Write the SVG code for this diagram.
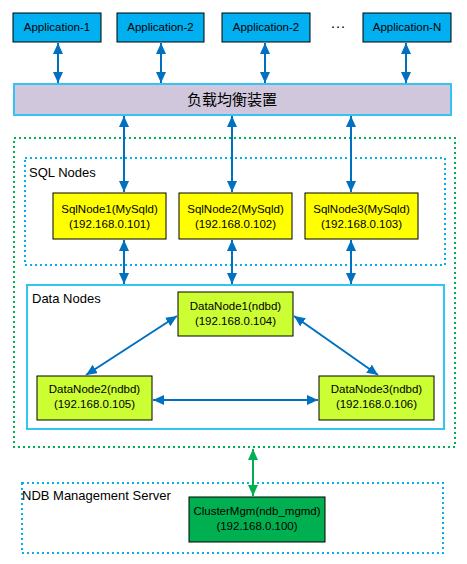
<svg xmlns="http://www.w3.org/2000/svg" width="467" height="564" viewBox="0 0 467 564">
<style>
text{font-family:"Liberation Sans","Noto Sans CJK JP",sans-serif;font-size:11.5px;fill:#000;text-anchor:middle}
.lbl{font-size:13px;text-anchor:start}
.big{font-size:15px}
.app{fill:#00B0F0;stroke:#000;stroke-width:1}
.sql{fill:#FFFF00;stroke:#000;stroke-width:1}
.dn{fill:#CCFF33;stroke:#000;stroke-width:1}
.mg{fill:#00B050;stroke:#000;stroke-width:1}
.ba{stroke:#0070C0;stroke-width:2;fill:none;marker-start:url(#ab);marker-end:url(#ab)}
.ga{stroke:#00B050;stroke-width:2;fill:none;marker-start:url(#ag);marker-end:url(#ag)}
.gdot{fill:none;stroke:#00B050;stroke-width:2;stroke-dasharray:2 3}
.bdot{fill:none;stroke:#00B0F0;stroke-width:2;stroke-dasharray:2 3}
</style>
<defs>
<marker id="ab" viewBox="0 0 10 10" refX="10" refY="5" markerWidth="5.5" markerHeight="5" orient="auto-start-reverse" markerUnits="strokeWidth" preserveAspectRatio="none"><path d="M0,0L10,5L0,10z" fill="#0070C0"/></marker>
<marker id="ag" viewBox="0 0 10 10" refX="10" refY="5" markerWidth="5.5" markerHeight="5" orient="auto-start-reverse" markerUnits="strokeWidth" preserveAspectRatio="none"><path d="M0,0L10,5L0,10z" fill="#00B050"/></marker>
</defs>
<rect width="467" height="564" fill="#fff"/>
<g id="groups">
<rect id="cluster" class="gdot" x="14" y="138" width="441" height="309"/>
<rect id="sqlgroup" class="bdot" x="25" y="158" width="420" height="107"/>
<text class="lbl" x="29" y="177">SQL Nodes</text>
<rect id="datagroup" x="27" y="285" width="417" height="144" fill="#fff" stroke="#33C4F4" stroke-width="2"/>
<text class="lbl" x="32" y="303">Data Nodes</text>
<rect id="mgmgroup" class="bdot" x="22" y="483" width="421" height="70"/>
<text class="lbl" x="22" y="500">NDB Management Server</text>
</g>
<g id="app1"><rect class="app" x="13" y="13" width="88" height="29"/><text x="57" y="31">Application-1</text></g>
<g id="app2"><rect class="app" x="117" y="13" width="87" height="29"/><text x="160.5" y="31">Application-2</text></g>
<g id="app3"><rect class="app" x="222" y="13" width="88" height="29"/><text x="266" y="31">Application-2</text></g>
<g id="dots"><text class="big" x="338" y="31">···</text></g>
<g id="appN"><rect class="app" x="363" y="13" width="88" height="29"/><text x="407" y="31">Application-N</text></g>
<g id="lb"><rect x="14" y="84" width="437" height="31" fill="#D0C7DD" stroke="#33C4F4" stroke-width="2"/><text class="big" x="232" y="105">负载均衡装置</text></g>
<g id="sql1"><rect class="sql" x="53" y="193" width="113" height="46"/><text x="109.5" y="213">SqlNode1(MySqld)</text><text x="109.5" y="228">(192.168.0.101)</text></g>
<g id="sql2"><rect class="sql" x="179" y="193" width="113" height="46"/><text x="235.5" y="213">SqlNode2(MySqld)</text><text x="235.5" y="228">(192.168.0.102)</text></g>
<g id="sql3"><rect class="sql" x="305" y="193" width="113" height="46"/><text x="361.5" y="213">SqlNode3(MySqld)</text><text x="361.5" y="228">(192.168.0.103)</text></g>
<g id="dn1"><rect class="dn" x="178" y="292" width="115" height="44"/><text x="235.5" y="310">DataNode1(ndbd)</text><text x="235.5" y="325">(192.168.0.104)</text></g>
<g id="dn2"><rect class="dn" x="37" y="376" width="115" height="44"/><text x="94.5" y="393">DataNode2(ndbd)</text><text x="94.5" y="408">(192.168.0.105)</text></g>
<g id="dn3"><rect class="dn" x="319" y="376" width="115" height="44"/><text x="376.5" y="393">DataNode3(ndbd)</text><text x="376.5" y="408">(192.168.0.106)</text></g>
<g id="mgm"><rect class="mg" x="189" y="497" width="136" height="45"/><text x="257" y="515">ClusterMgm(ndb_mgmd)</text><text x="257" y="530">(192.168.0.100)</text></g>
<g id="connectors">
<line class="ba" x1="58" y1="43" x2="58" y2="83"/>
<line class="ba" x1="161" y1="43" x2="161" y2="83"/>
<line class="ba" x1="265" y1="43" x2="265" y2="83"/>
<line class="ba" x1="406" y1="43" x2="406" y2="83"/>
<line class="ba" x1="124" y1="116" x2="124" y2="192"/>
<line class="ba" x1="232" y1="116" x2="232" y2="192"/>
<line class="ba" x1="351" y1="116" x2="351" y2="192"/>
<line class="ba" x1="124" y1="240" x2="124" y2="284"/>
<line class="ba" x1="232" y1="240" x2="232" y2="284"/>
<line class="ba" x1="351" y1="240" x2="351" y2="284"/>
<line class="ba" x1="177" y1="316" x2="86" y2="375"/>
<line class="ba" x1="294" y1="316" x2="378" y2="375"/>
<line class="ba" x1="153" y1="400" x2="318" y2="400"/>
<line class="ga" x1="253" y1="449" x2="253" y2="496"/>
</g>
</svg>
